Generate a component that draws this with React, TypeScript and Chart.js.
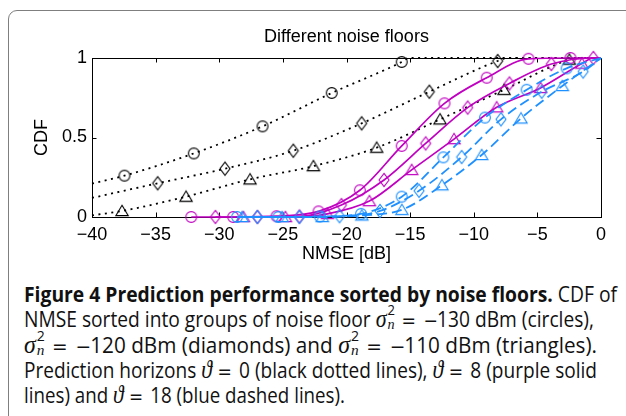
import React, { useEffect, useLayoutEffect, useRef } from "react";
import { Chart, registerables, type Plugin } from "chart.js";

Chart.register(...registerables);

const xTicks = [-40, -35, -30, -25, -20, -15, -10, -5, 0];
const yTicks = [0, 0.5, 1];

// horizon 0 -> black dotted, markers
const blackCircleX = [-37.45, -32.0, -26.6, -21.16, -15.66];
const blackCircleY = [0.26, 0.4, 0.57, 0.78, 0.975];
const blackDiamondX = [-34.84, -29.55, -24.18, -18.81, -13.49, -8.12];
const blackDiamondY = [0.212, 0.304, 0.417, 0.589, 0.788, 0.981];
const blackTriangleX = [-37.64, -32.61, -27.58, -22.6, -17.63, -12.65, -7.62, -2.49];
const blackTriangleY = [0.038, 0.128, 0.237, 0.32, 0.436, 0.614, 0.8, 0.99];

// horizon 8 -> purple solid
const purpleCircleX = [-32.2, -28.9, -25.5, -22.2, -18.95, -15.66, -12.3, -8.98, -5.7, -2.4];
const purpleCircleY = [0, 0, 0.005, 0.035, 0.168, 0.447, 0.715, 0.876, 0.995, 1];
const purpleDiamondX = [-30.3, -27.0, -23.7, -20.4, -17.05, -13.78, -10.48, -7.2, -3.9, -0.6];
const purpleDiamondY = [0, 0, 0.003, 0.075, 0.233, 0.463, 0.688, 0.84, 0.962, 1];
const purpleTriangleX = [-28.1, -24.8, -21.5, -18.2, -14.88, -11.55, -8.2, -4.75, -1.5];
const purpleTriangleY = [0, 0, 0.02, 0.1, 0.296, 0.49, 0.69, 0.812, 0.965];

// horizon 18 -> blue dashed
const blueCircleX = [-28.6, -25.35, -22.1, -18.86, -15.66, -12.39, -9.12, -5.84, -2.7];
const blueCircleY = [0, 0, 0.003, 0.02, 0.128, 0.375, 0.625, 0.8, 0.935];
const blueDiamondX = [-27.0, -23.7, -20.55, -17.37, -14.3, -10.95, -7.86, -4.66, -1.4];
const blueDiamondY = [0, 0, 0.005, 0.038, 0.165, 0.377, 0.614, 0.788, 0.915];
const blueTriangleX = [-28.2, -25.05, -21.9, -18.8, -15.65, -12.5, -9.38, -6.29, -3.04];
const blueTriangleY = [0, 0, 0, 0.01, 0.045, 0.2, 0.39, 0.62, 0.824];

// where the lines run on past the first / last marker, as [x, y]
const blackCircleHead = [[-40, 0.21]];
const blackCircleTail = [[-15.1, 1], [0, 1]];
const blackDiamondHead = [[-40, 0.12]];
const blackDiamondTail = [[-7.3, 1], [0, 1]];
const blackTriangleHead = [[-40, 0.01]];
const blackTriangleTail = [[-1.8, 1], [0, 1]];
const purpleTail = [[0, 1]];
const purpleTriangleTail = [[-0.6, 1], [0, 1]];
const blueTail = [[0, 1]];

const BLACK = "#000000";
const PURPLE = "#c000c0";
const BLUE = "#1e90ff";

type Shape = "circle" | "diamond" | "triangle";

function makeMarker(shape: Shape, color: string): HTMLCanvasElement {
  const s = 18;
  const c = document.createElement("canvas");
  c.width = s;
  c.height = s;
  const g = c.getContext("2d")!;
  const m = s / 2;
  g.strokeStyle = color;
  g.lineWidth = 1.1;
  g.beginPath();
  if (shape === "circle") {
    g.arc(m, m, 5.4, 0, Math.PI * 2);
  } else if (shape === "diamond") {
    g.moveTo(m, m - 6.6);
    g.lineTo(m + 5, m);
    g.lineTo(m, m + 6.6);
    g.lineTo(m - 5, m);
    g.closePath();
  } else {
    g.moveTo(m, m - 5.8);
    g.lineTo(m + 6.2, m + 4.6);
    g.lineTo(m - 6.2, m + 4.6);
    g.closePath();
  }
  g.stroke();
  return c;
}

const pairs = (xs: number[], ys: number[]) => xs.map((x, i) => [x, ys[i]]);

function curveSets(
  xs: number[],
  ys: number[],
  head: number[][],
  tail: number[][],
  color: string,
  dash: number[],
  width: number,
  shape: Shape,
) {
  const marks = pairs(xs, ys);
  const line = [...head, ...marks, ...tail].map(([x, y]) => ({ x, y }));
  return [
    {
      data: line,
      showLine: true,
      borderColor: color,
      borderWidth: width,
      borderDash: dash,
      pointRadius: 0,
      cubicInterpolationMode: "monotone" as const,
      fill: false,
      clip: false as const,
    },
    {
      data: marks.map(([x, y]) => ({ x, y })),
      showLine: false,
      pointStyle: makeMarker(shape, color),
      pointRadius: 5,
      clip: false as const,
    },
  ];
}

const minus = (v: number) => (v < 0 ? "\u2212" + Math.abs(v) : String(v));

const FONT_FAMILY = "'Liberation Sans', Arial, sans-serif";

const framePlugin: Plugin<"scatter"> = {
  id: "frame",
  beforeDatasetsDraw(chart) {
    const { ctx, chartArea: a, scales } = chart;
    const t = 4.5;
    ctx.save();
    ctx.strokeStyle = "#000";
    ctx.lineWidth = 1;
    ctx.strokeRect(a.left + 0.5, a.top + 0.5, a.right - a.left, a.bottom - a.top);
    ctx.beginPath();
    for (const v of xTicks) {
      const px = Math.round(scales.x.getPixelForValue(v)) + 0.5;
      ctx.moveTo(px, a.bottom);
      ctx.lineTo(px, a.bottom - t);
      ctx.moveTo(px, a.top);
      ctx.lineTo(px, a.top + t);
    }
    for (const v of yTicks) {
      const py = Math.round(scales.y.getPixelForValue(v)) + 0.5;
      ctx.moveTo(a.left, py);
      ctx.lineTo(a.left + t, py);
      ctx.moveTo(a.right, py);
      ctx.lineTo(a.right - t, py);
    }
    ctx.stroke();
    ctx.restore();
  },
  afterDraw(chart) {
    const { ctx, chartArea: a } = chart;
    ctx.save();
    ctx.fillStyle = "#000";
    ctx.font = `18px ${FONT_FAMILY}`;
    ctx.textAlign = "center";
    ctx.textBaseline = "middle";
    ctx.fillText("Different noise floors", (a.left + a.right) / 2, 37.5);
    ctx.restore();
  },
};

const PlotChart: React.FC = () => {
  const canvasRef = useRef<HTMLCanvasElement>(null);
  const chartRef = useRef<Chart | null>(null);

  useEffect(() => {
    if (!canvasRef.current) return;
    const ctx = canvasRef.current.getContext("2d");
    if (!ctx) return;
    if (chartRef.current) chartRef.current.destroy();

    const dotted = [2, 4.5];
    const dashed = [10, 5];
    const datasets = [
      ...curveSets(blueCircleX, blueCircleY, [], blueTail, BLUE, dashed, 1.8, "circle"),
      ...curveSets(blueDiamondX, blueDiamondY, [], blueTail, BLUE, dashed, 1.8, "diamond"),
      ...curveSets(blueTriangleX, blueTriangleY, [], blueTail, BLUE, dashed, 1.8, "triangle"),
      ...curveSets(purpleCircleX, purpleCircleY, [], purpleTail, PURPLE, [], 1.7, "circle"),
      ...curveSets(purpleDiamondX, purpleDiamondY, [], purpleTail, PURPLE, [], 1.7, "diamond"),
      ...curveSets(purpleTriangleX, purpleTriangleY, [], purpleTriangleTail, PURPLE, [], 1.7, "triangle"),
      ...curveSets(blackCircleX, blackCircleY, blackCircleHead, blackCircleTail, BLACK, dotted, 1.8, "circle"),
      ...curveSets(blackDiamondX, blackDiamondY, blackDiamondHead, blackDiamondTail, BLACK, dotted, 1.8, "diamond"),
      ...curveSets(blackTriangleX, blackTriangleY, blackTriangleHead, blackTriangleTail, BLACK, dotted, 1.8, "triangle"),
    ];

    const font = { family: FONT_FAMILY, size: 18 };

    chartRef.current = new Chart(ctx, {
      type: "scatter",
      data: { datasets: datasets as any },
      options: {
        responsive: false,
        animation: false,
        events: [],
        layout: { padding: { top: 58, right: 25, left: 0, bottom: 0 } },
        plugins: {
          legend: { display: false },
          tooltip: { enabled: false },
          title: { display: false },
        },
        scales: {
          x: {
            type: "linear",
            min: -40,
            max: 0,
            grid: { display: false, drawTicks: false },
            border: { display: false },
            ticks: {
              stepSize: 5,
              padding: 7,
              color: "#000",
              font,
              maxRotation: 0,
              callback: (v) => minus(Number(v)),
            },
            title: {
              display: true,
              text: "NMSE [dB]",
              color: "#000",
              font,
              padding: { top: 0, bottom: 5 },
            },
            afterFit: (scale) => {
              scale.height = 53;
            },
          },
          y: {
            type: "linear",
            min: 0,
            max: 1,
            grid: { display: false, drawTicks: false },
            border: { display: false },
            ticks: {
              stepSize: 0.5,
              padding: 5,
              color: "#000",
              font,
              callback: (v) => String(Number(v)),
            },
            title: {
              display: true,
              text: "CDF",
              color: "#000",
              font,
              padding: { top: 31, bottom: 0 },
            },
            afterFit: (scale) => {
              scale.width = 92;
            },
          },
        },
      },
      plugins: [framePlugin],
    });

    return () => {
      if (chartRef.current) {
        chartRef.current.destroy();
        chartRef.current = null;
      }
    };
  }, []);

  return (
    <canvas
      ref={canvasRef}
      width={626}
      height={270}
      style={{ position: "absolute", left: 0, top: 0, width: 626, height: 270 }}
    />
  );
};

const mathFont: React.CSSProperties = {
  fontFamily: "'Liberation Serif', 'DejaVu Serif', serif",
  fontStyle: "italic",
};
const symFont: React.CSSProperties = { fontFamily: "'DejaVu Sans', sans-serif", fontSize: "0.9em" };

const Sigma: React.FC = () => (
  <span style={{ whiteSpace: "nowrap" }}>
    <span style={{ ...mathFont, fontSize: "1.15em" }}>σ</span>
    <span
      style={{
        position: "relative",
        display: "inline-block",
        width: "0.5em",
        height: "1em",
      }}
    >
      <span style={{ position: "absolute", left: 1, top: "-0.2em", fontSize: "0.68em", lineHeight: 1 }}>2</span>
      <span style={{ ...mathFont, position: "absolute", left: 1, top: "0.62em", fontSize: "0.74em", lineHeight: 1 }}>n</span>
    </span>
  </span>
);

const Theta: React.FC = () => <span style={{ ...mathFont, fontSize: "1.15em" }}>ϑ</span>;

// "=" and "−" set like math
const Eq: React.FC = () => <span style={{ ...symFont, margin: "0 8px 0 6px" }}>=</span>;
const Neg: React.FC = () => <span style={{ ...symFont, marginRight: -1 }}>−</span>;

// right end of each caption line in the reference
const capLeft = 24;
const capRight = [617, 594, 597, 597, 345];

const Caption: React.FC = () => {
  const spans = useRef<(HTMLSpanElement | null)[]>([]);

  useLayoutEffect(() => {
    const fitLines = () => {
      spans.current.forEach((el, i) => {
        if (!el) return;
        el.style.transform = "none";
        const w = el.getBoundingClientRect().width;
        if (w > 0) el.style.transform = `scaleX(${(capRight[i] - capLeft) / w})`;
      });
    };
    fitLines();
    document.fonts?.ready.then(fitLines);
  }, []);

  const lines: React.ReactNode[] = [
    <>
      <b>Figure 4 Prediction performance sorted by noise floors.</b> CDF of
    </>,
    <>
      NMSE sorted into groups of noise floor <Sigma /><Eq /><Neg />130 dBm (circles),
    </>,
    <>
      <Sigma /><Eq /><Neg />120 dBm (diamonds) and <Sigma /><Eq /><Neg />110 dBm (triangles).
    </>,
    <>
      Prediction horizons <Theta /><Eq />0 (black dotted lines), <Theta /><Eq />8 (purple solid
    </>,
    <>
      lines) and <Theta /><Eq />18 (blue dashed lines).
    </>,
  ];

  return (
    <div
      style={{
        position: "absolute",
        left: capLeft,
        top: 282,
        fontFamily: "'Open Sans', 'Noto Sans', sans-serif",
        fontSize: 21,
        lineHeight: "24px",
        color: "#111",
      }}
    >
      {lines.map((content, i) => (
        <div key={i} style={{ whiteSpace: "nowrap" }}>
          <span
            ref={(el) => {
              spans.current[i] = el;
            }}
            style={{ display: "inline-block", transformOrigin: "0 0" }}
          >
            {content}
          </span>
        </div>
      ))}
    </div>
  );
};

const App: React.FC = () => (
  <div
    style={{
      position: "absolute",
      left: 0,
      top: 0,
      width: 626,
      height: 416,
      overflow: "hidden",
      background: "#fff",
    }}
  >
    <div
      style={{
        position: "absolute",
        left: 8,
        top: 10,
        width: 700,
        height: 500,
        border: "1.5px solid #7f7f7f",
        borderRadius: 9,
        boxSizing: "border-box",
      }}
    />
    <PlotChart />
    <Caption />
  </div>
);

export default App;
